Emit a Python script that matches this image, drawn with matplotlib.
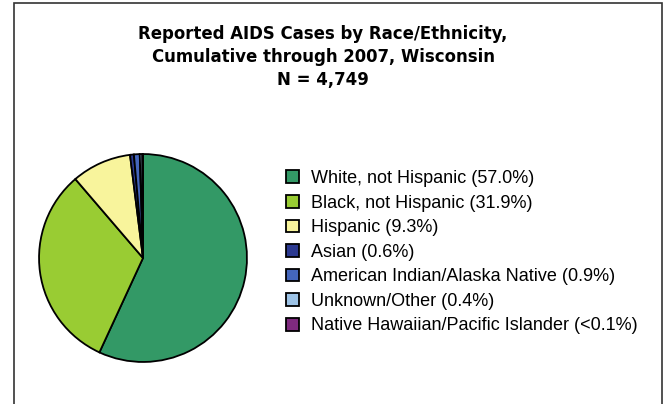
import matplotlib

matplotlib.use("Agg")
import matplotlib.pyplot as plt
from matplotlib.patches import Rectangle

W, H = 665, 404

groups = [
    "White, not Hispanic",
    "Black, not Hispanic",
    "Hispanic",
    "Asian",
    "American Indian/Alaska Native",
    "Unknown/Other",
    "Native Hawaiian/Pacific Islander",
]
pct_labels = ["57.0%", "31.9%", "9.3%", "0.6%", "0.9%", "0.4%", "<0.1%"]
shares = [57.0, 31.9, 9.3, 0.6, 0.9, 0.4, 0.1]
colors = ["#339966", "#99cc33", "#f8f49c", "#2b3990", "#4466bb", "#9dc3e6", "#7f2a7f"]

fig = plt.figure(figsize=(W / 100, H / 100), dpi=100)

# outer frame (bottom edge runs off the image)
fig.patches.append(Rectangle((13.5 / W, -0.05), (662 - 13.5) / W, 1.05 - 3.5 / H,
                             transform=fig.transFigure, fill=False,
                             edgecolor="#333333", linewidth=1.2))

title = "Reported AIDS Cases by Race/Ethnicity,\nCumulative through 2007, Wisconsin\nN = 4,749"
fig.text(323 / W, 1 - 25 / H, title, ha="center", va="top", fontsize=13.2,
         fontweight="bold", fontstretch="condensed", family="DejaVu Sans",
         linespacing=1.36)

# pie: centre (143, 258), radius 105 px
cx, cy, r = 143, 258, 105
ax = fig.add_axes([(cx - r) / W, (H - cy - r) / H, 2 * r / W, 2 * r / H])
wedges, _ = ax.pie(shares, colors=colors, startangle=90, counterclock=False,
                   wedgeprops=dict(edgecolor="black", linewidth=1.3))
ax.set_xlim(-1.01, 1.01)
ax.set_ylim(-1.01, 1.01)
ax.set_aspect("equal")
ax.axis("off")

labels = [f"{g} ({p})" for g, p in zip(groups, pct_labels)]
fig.legend(wedges, labels, loc="upper left", bbox_to_anchor=(286 / W, 1 - 170 / H),
           frameon=False, handlelength=0.7, handleheight=0.7,
           handletextpad=0.66, labelspacing=0.42, borderpad=0, borderaxespad=0,
           prop=dict(family="Liberation Sans", size=13))

fig.savefig("out.png", dpi=100)
